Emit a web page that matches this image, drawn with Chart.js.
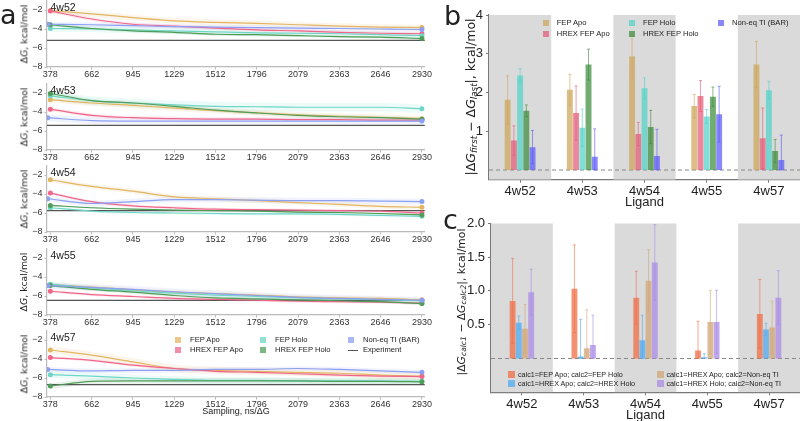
<!DOCTYPE html>
<html><head><meta charset="utf-8">
<script src="https://cdn.jsdelivr.net/npm/chart.js@4"></script>
<style>
body{margin:0;width:800px;height:421px;overflow:hidden;background:#fff;position:relative;font-family:"Liberation Sans",Arial,sans-serif;color:#222;}
canvas{position:absolute;}
.t{position:absolute;white-space:nowrap;line-height:1;}
.rot{transform:translate(-50%,-50%) rotate(-90deg);font-family:"DejaVu Sans",sans-serif;}
.sq{position:absolute;}
sub{font-size:70%;vertical-align:-0.25em;line-height:0;}
</style></head><body>
<script>
// ---------------- DATA ----------------
const LIGANDS = ['4w52','4w53','4w54','4w55','4w57'];
const SERIES_A = ['FEP Apo','HREX FEP Apo','FEP Holo','HREX FEP Holo','Non-eq TI (BAR)'];
const SAMPLING = [378, 662, 945, 1229, 1512, 1796, 2079, 2363, 2646, 2930];
const SAMPLING_TI = [360, 662, 945, 1229, 1512, 1796, 2079, 2363, 2646, 2930];
const X_TICKS_A = [378, 662, 945, 1229, 1512, 1796, 2079, 2363, 2646, 2930];
const Y_TICKS_A = [-8, -6, -4, -2];
const X_MIN_A = 355, X_MAX_A = 2950, Y_MIN_A = -8, Y_MAX_A = -1;
const EXPERIMENT = [-5.2, -5.4, -5.75, -6.45, -6.7];

const FEP_APO_4W52   = [-2.05,-2.4,-2.8,-3.15,-3.3,-3.4,-3.55,-3.7,-3.8,-3.85];
const HREX_APO_4W52  = [-2.1,-2.95,-3.5,-3.7,-3.9,-4.1,-4.2,-4.35,-4.45,-4.5];
const FEP_HOLO_4W52  = [-3.95,-4.0,-4.1,-4.2,-4.3,-4.4,-4.45,-4.5,-4.6,-4.7];
const HREX_HOLO_4W52 = [-3.55,-3.95,-4.2,-4.35,-4.55,-4.6,-4.7,-4.8,-4.85,-5.0];
const TI_4W52        = [-3.5,-3.55,-3.65,-3.75,-3.8,-3.85,-3.9,-3.95,-4.0,-4.05];
const BAND_4W52      = [0.3,0.2,0.35,0.15,0.25];

const FEP_APO_4W53   = [-2.7,-3.05,-3.3,-3.6,-3.85,-4.1,-4.3,-4.45,-4.55,-4.7];
const HREX_APO_4W53  = [-3.7,-4.35,-4.6,-4.7,-4.75,-4.75,-4.8,-4.8,-4.85,-4.85];
const FEP_HOLO_4W53  = [-2.3,-2.8,-3.05,-3.25,-3.4,-3.45,-3.5,-3.5,-3.5,-3.65];
const HREX_HOLO_4W53 = [-2.05,-2.8,-3.05,-3.4,-3.8,-4.1,-4.35,-4.5,-4.6,-4.75];
const TI_4W53        = [-4.6,-4.9,-4.95,-4.95,-4.95,-4.95,-4.95,-4.95,-4.95,-4.95];
const BAND_4W53      = [0.3,0.2,0.45,0.2,0.35];

const FEP_APO_4W54   = [-2.5,-3.2,-3.7,-4.3,-4.5,-4.7,-4.9,-5.1,-5.3,-5.4];
const HREX_APO_4W54  = [-3.9,-4.8,-5.25,-5.45,-5.6,-5.65,-5.7,-5.75,-5.8,-6.0];
const FEP_HOLO_4W54  = [-5.45,-5.8,-5.95,-6.0,-6.05,-6.1,-6.1,-6.15,-6.25,-6.35];
const HREX_HOLO_4W54 = [-5.2,-5.45,-5.6,-5.7,-5.75,-5.8,-5.9,-5.95,-6.05,-6.2];
const TI_4W54        = [-4.5,-5.0,-4.8,-4.6,-4.6,-4.65,-4.7,-4.7,-4.75,-4.8];
const BAND_4W54      = [0.25,0.15,0.15,0.1,0.3];

const FEP_APO_4W55   = [-4.8,-5.05,-5.35,-5.6,-5.75,-5.9,-6.1,-6.2,-6.25,-6.4];
const HREX_APO_4W55  = [-5.5,-5.85,-6.05,-6.25,-6.35,-6.45,-6.55,-6.6,-6.65,-6.75];
const FEP_HOLO_4W55  = [-4.75,-5.15,-5.45,-5.7,-5.9,-6.05,-6.2,-6.3,-6.4,-6.5];
const HREX_HOLO_4W55 = [-4.9,-5.3,-5.6,-5.95,-6.2,-6.3,-6.4,-6.5,-6.6,-6.8];
const TI_4W55        = [-4.9,-5.1,-5.3,-5.55,-5.75,-5.95,-6.15,-6.25,-6.35,-6.45];
const BAND_4W55      = [0.2,0.15,0.2,0.15,0.35];

const FEP_APO_4W57   = [-3.05,-3.6,-4.3,-5.0,-5.2,-5.3,-5.4,-5.5,-5.7,-5.8];
const HREX_APO_4W57  = [-3.85,-4.15,-4.65,-5.0,-5.3,-5.4,-5.55,-5.7,-5.8,-5.85];
const FEP_HOLO_4W57  = [-5.65,-5.8,-6.0,-6.15,-6.25,-6.25,-6.3,-6.3,-6.3,-6.35];
const HREX_HOLO_4W57 = [-6.85,-6.35,-6.3,-6.3,-6.3,-6.3,-6.3,-6.35,-6.35,-6.4];
const TI_4W57        = [-5.1,-5.25,-5.2,-5.2,-5.1,-5.1,-5.0,-5.1,-5.25,-5.4];
const BAND_4W57      = [0.4,0.15,0.35,0.3,0.25];

// panel b
const Y_TICKS_B = [1, 2, 3, 4];
const B_FEP_APO        = [1.81,2.07,2.93,1.65,2.72];
const B_FEP_APO_ERR    = [0.62,0.40,0.55,0.30,0.60];
const B_HREX_APO       = [0.76,1.47,0.93,1.91,0.82];
const B_HREX_APO_ERR   = [0.38,0.70,0.30,0.40,0.78];
const B_FEP_HOLO       = [2.44,1.09,2.11,1.38,2.06];
const B_FEP_HOLO_ERR   = [0.17,0.48,0.27,0.18,0.23];
const B_HREX_HOLO      = [1.53,2.72,1.11,1.89,0.49];
const B_HREX_HOLO_ERR  = [0.15,0.40,0.43,0.25,0.30];
const B_TI             = [0.59,0.34,0.36,1.44,0.26];
const B_TI_ERR         = [0.43,0.72,0.69,0.72,0.64];

// panel c
const SERIES_C = ['calc1=FEP Apo; calc2=FEP Holo','calc1=HREX Apo; calc2=HREX Holo','calc1=HREX Apo; calc2=Non-eq TI','calc1=HREX Holo; calc2=Non-eq TI'];
const Y_TICKS_C = [0.5, 1.0, 1.5, 2.0];
const C_FEPAPO_FEPHOLO      = [0.85,1.03,0.90,0.12,0.66];
const C_FEPAPO_FEPHOLO_ERR  = [0.63,0.65,0.39,0.43,0.51];
const C_HREXAPO_HREXHOLO     = [0.53,0.03,0.27,0.02,0.43];
const C_HREXAPO_HREXHOLO_ERR = [0.10,0.55,0.37,0.05,0.09];
const C_HREXAPO_TI          = [0.44,0.15,1.15,0.54,0.46];
const C_HREXAPO_TI_ERR      = [0.36,0.57,0.46,0.47,0.39];
const C_HREXHOLO_TI         = [0.98,0.20,1.42,0.54,0.90];
const C_HREXHOLO_TI_ERR     = [0.34,0.44,0.56,0.47,0.40];

// ---------------- STYLE ----------------
const COL_A = [[226,181,99],[240,102,138],[110,214,198],[79,157,89],[139,159,243]];
const COL_B = [[205,165,88],[228,90,120],[80,210,200],[60,140,60],[90,90,250]];
const COL_C = [[240,110,70],[80,170,240],[210,165,120],[170,140,230]];
const rgba = (c,a)=>`rgba(${c[0]},${c[1]},${c[2]},${a})`;
const FONT = '"Liberation Sans", Arial, sans-serif';

const A_DATA = {
 '4w52':[FEP_APO_4W52,HREX_APO_4W52,FEP_HOLO_4W52,HREX_HOLO_4W52,TI_4W52],
 '4w53':[FEP_APO_4W53,HREX_APO_4W53,FEP_HOLO_4W53,HREX_HOLO_4W53,TI_4W53],
 '4w54':[FEP_APO_4W54,HREX_APO_4W54,FEP_HOLO_4W54,HREX_HOLO_4W54,TI_4W54],
 '4w55':[FEP_APO_4W55,HREX_APO_4W55,FEP_HOLO_4W55,HREX_HOLO_4W55,TI_4W55],
 '4w57':[FEP_APO_4W57,HREX_APO_4W57,FEP_HOLO_4W57,HREX_HOLO_4W57,TI_4W57]};
const A_BAND = {'4w52':BAND_4W52,'4w53':BAND_4W53,'4w54':BAND_4W54,'4w55':BAND_4W55,'4w57':BAND_4W57};

function addCanvas(left, top, w, h){
  const cv=document.createElement('canvas');
  cv.width=w; cv.height=h; cv.style.left=left+'px'; cv.style.top=top+'px';
  cv.style.width=w+'px'; cv.style.height=h+'px';
  document.body.appendChild(cv); return cv;
}
function addText(html, left, top, size, cls, extra){
  const d=document.createElement('div'); d.className='t'+(cls?' '+cls:'');
  d.innerHTML=html; d.style.left=left+'px'; d.style.top=top+'px'; d.style.fontSize=size+'px';
  if(extra) Object.assign(d.style, extra);
  document.body.appendChild(d); return d;
}
function addBox(left, top, w, h, color){
  const d=document.createElement('div'); d.className='sq';
  Object.assign(d.style,{left:left+'px',top:top+'px',width:w+'px',height:h+'px',background:color});
  document.body.appendChild(d);
}

// ---------------- PANEL A ----------------
const A_BOTTOMS = [66.7, 150, 231.7, 315, 396.7];
const labelPlugin = {
  id:'sublabel',
  afterDraw(chart){
    const a=chart.chartArea, ctx=chart.ctx;
    ctx.save(); ctx.font='10.5px '+FONT; ctx.fillStyle='#222'; ctx.textBaseline='alphabetic';
    ctx.fillText(chart.options.plugins.sublabel.text, a.left+3.5, a.top+10.5); ctx.restore();
  }
};
LIGANDS.forEach((lig, li)=>{
  const B=A_BOTTOMS[li];
  const cv=addCanvas(0, B-80, 432, 96);
  const series=A_DATA[lig], bands=A_BAND[lig];
  const ds=[];
  series.forEach((vals,s)=>{
    const xs = s===4 ? SAMPLING_TI : SAMPLING;
    ds.push({data: xs.map((x,k)=>({x, y: vals[k]+bands[s]})), borderWidth:0, pointRadius:0,
      fill:'+1', backgroundColor: rgba(COL_A[s],0.13), cubicInterpolationMode:'monotone', order:10});
    ds.push({data: xs.map((x,k)=>({x, y: vals[k]-bands[s]})), borderWidth:0, pointRadius:0,
      fill:false, cubicInterpolationMode:'monotone', order:10});
  });
  ds.push({data:[{x:X_MIN_A,y:EXPERIMENT[li]},{x:X_MAX_A,y:EXPERIMENT[li]}], borderColor:'#555', borderWidth:1.2,
    pointRadius:0, fill:false, order:3});
  series.forEach((vals,s)=>{
    const xs = s===4 ? SAMPLING_TI : SAMPLING;
    const n=vals.length;
    ds.push({data: xs.map((x,k)=>({x, y: vals[k]})), borderColor: rgba(COL_A[s],1), borderWidth:1.2,
      backgroundColor: rgba(COL_A[s],1), fill:false, cubicInterpolationMode:'monotone',
      pointRadius: c => (c.dataIndex===0 || c.dataIndex===n-1) ? 2.5 : 0, pointBorderWidth:0,
      pointBackgroundColor: rgba(COL_A[s],1), order: 1 + (4-s)*0.1});
  });
  new Chart(cv, {
    type:'line', data:{datasets:ds},
    options:{responsive:false, animation:false, events:[],
      layout:{padding:{top:13.5, right:6, left:0, bottom:0}},
      plugins:{legend:{display:false}, tooltip:{enabled:false}, sublabel:{text:lig}},
      scales:{
        x:{type:'linear', min:X_MIN_A, max:X_MAX_A,
          afterBuildTicks(s){ s.ticks = X_TICKS_A.map(v=>({value:v})); },
          afterFit(s){ s.height=16; },
          grid:{drawOnChartArea:false, drawTicks:true, tickLength:2.5, color:'#bbb'},
          border:{color:'#bbb', width:1.2},
          ticks:{autoSkip:false, maxRotation:0, padding:0, color:'#333', font:{size:9, family:FONT}, callback:v=>String(v)}},
        y:{min:Y_MIN_A, max:Y_MAX_A,
          afterBuildTicks(s){ s.ticks = Y_TICKS_A.map(v=>({value:v})); },
          afterFit(s){ s.width=47; },
          grid:{drawOnChartArea:false, drawTicks:true, tickLength:2.5, color:'#bbb'},
          border:{color:'#bbb', width:1.2},
          ticks:{padding:2, color:'#333', font:{size:9, family:FONT}, callback:v=>String(v).replace('-','\u2212')}}
      }},
    plugins:[labelPlugin]
  });
  addText('<i>Δ</i><i>G</i>, kcal/mol'.replace('<i>Δ</i>','Δ'), 23.5, B-33, 9.3, 'rot');
});
addText('a', 0, 1, 27, '', {fontFamily:'"DejaVu Sans",sans-serif'});
addText('Sampling, ns/ΔG', 236, 406.5, 9, '', {transform:'translateX(-50%)'});
// legend panel a
const A_LEG = [[175,339.7],[175,350.3],[260,339.7],[260,350.3],[348,339.7]];
SERIES_A.forEach((name,s)=>{
  const [x,y]=A_LEG[s];
  addBox(x, y-3, 6, 6, rgba(COL_A[s],0.75));
  addText(name, x+15, y-3.9, 7.6);
});
addBox(348, 349.7, 10, 1.2, '#555');
addText('Experiment', 363, 350.3-3.9, 7.6);

// ---------------- BAR HELPERS ----------------
const bgPlugin = {
  id:'bgbands',
  beforeDatasetsDraw(chart){
    const ctx=chart.ctx, a=chart.chartArea, x=chart.scales.x, y=chart.scales.y;
    const w = x.width / x.ticks.length;
    ctx.save();
    ctx.beginPath(); ctx.rect(a.left, a.top, a.right-a.left, a.bottom-a.top); ctx.clip();
    ctx.fillStyle='#dadada';
    x.ticks.forEach((t,i)=>{ if(i%2===0){ const cx=x.getPixelForValue(i); ctx.fillRect(cx-w/2, a.top, w, a.bottom-a.top);} });
    ctx.strokeStyle='#888'; ctx.lineWidth=1; ctx.setLineDash([4,3]);
    const y0=y.getPixelForValue(0);
    ctx.beginPath(); ctx.moveTo(a.left,y0); ctx.lineTo(a.right,y0); ctx.stroke();
    ctx.restore();
  }
};
const errPlugin = {
  id:'errbars',
  afterDatasetsDraw(chart){
    const ctx=chart.ctx, y=chart.scales.y;
    chart.data.datasets.forEach((ds,i)=>{
      const meta=chart.getDatasetMeta(i);
      meta.data.forEach((bar,j)=>{
        const v=ds.data[j], e=ds.err[j];
        const top=y.getPixelForValue(v+e), bot=y.getPixelForValue(Math.max(0,v-e));
        ctx.save(); ctx.strokeStyle=ds.errColor; ctx.lineWidth=1;
        ctx.beginPath(); ctx.moveTo(bar.x,top); ctx.lineTo(bar.x,bot);
        ctx.moveTo(bar.x-1.5,top); ctx.lineTo(bar.x+1.5,top);
        ctx.moveTo(bar.x-1.5,bot); ctx.lineTo(bar.x+1.5,bot);
        ctx.stroke(); ctx.restore();
      });
    });
  }
};
function barChart(cv, datasets, opt){
  return new Chart(cv, {
    type:'bar', data:{labels:LIGANDS, datasets},
    options:{responsive:false, animation:false, events:[],
      layout:{padding:{top:opt.padTop, right:0, left:0, bottom:0}},
      datasets:{bar:{categoryPercentage:opt.catPct, barPercentage:0.95, borderWidth:0}},
      plugins:{legend:{display:false}, tooltip:{enabled:false}},
      scales:{
        x:{offset:true, afterFit(s){ s.height=opt.xH; },
          grid:{drawOnChartArea:false, drawTicks:true, tickLength:3, color:'#777', offset:false},
          border:{color:'#777', width:1.2},
          ticks:{padding:1, color:'#222', font:{size:13, family:FONT}}},
        y:{min:opt.ymin, max:opt.ymax,
          afterBuildTicks(s){ s.ticks = opt.yticks.map(v=>({value:v})); },
          afterFit(s){ s.width=opt.yW; },
          grid:{drawOnChartArea:false, drawTicks:true, tickLength:3, color:'#777'},
          border:{color:'#777', width:1.2},
          ticks:{padding:3, color:'#222', font:{size:13, family:FONT}, callback:opt.fmt}}
      }},
    plugins:[bgPlugin, errPlugin]
  });
}

// ---------------- PANEL B ----------------
const cvB = addCanvas(400, 0, 400, 210);
const B_VALS=[B_FEP_APO,B_HREX_APO,B_FEP_HOLO,B_HREX_HOLO,B_TI];
const B_ERRS=[B_FEP_APO_ERR,B_HREX_APO_ERR,B_FEP_HOLO_ERR,B_HREX_HOLO_ERR,B_TI_ERR];
barChart(cvB, B_VALS.map((v,s)=>({label:SERIES_A[s], data:v, err:B_ERRS[s],
  backgroundColor:rgba(COL_B[s],0.72), errColor:rgba(COL_B[s],0.6)})),
  {padTop:15, xH:30.3, yW:89, ymin:-0.25, ymax:4, yticks:Y_TICKS_B, catPct:0.5, fmt:v=>String(v)});
addText('b', 444, 2, 27, '', {fontFamily:'"DejaVu Sans",sans-serif'});
addText('|Δ<i>G</i><sub><i>first</i></sub> − Δ<i>G</i><sub><i>last</i></sub>|, kcal/mol', 471, 97, 12.5, 'rot');
addText('Ligand', 644.5, 195, 13, '', {transform:'translateX(-50%)'});
const B_LEG = [[542.7,23.3],[542.7,34],[629,23.3],[629,34],[718,23.3]];
SERIES_A.forEach((name,s)=>{
  const [x,y]=B_LEG[s];
  addBox(x, y-3, 6, 6, rgba(COL_B[s],0.72));
  addText(name, x+14, y-3.9, 7.6);
});

// ---------------- PANEL C ----------------
const cvC = addCanvas(400, 205, 400, 216);
const C_VALS=[C_FEPAPO_FEPHOLO,C_HREXAPO_HREXHOLO,C_HREXAPO_TI,C_HREXHOLO_TI];
const C_ERRS=[C_FEPAPO_FEPHOLO_ERR,C_HREXAPO_HREXHOLO_ERR,C_HREXAPO_TI_ERR,C_HREXHOLO_TI_ERR];
barChart(cvC, C_VALS.map((v,s)=>({label:SERIES_C[s], data:v, err:C_ERRS[s],
  backgroundColor:rgba(COL_C[s],0.75), errColor:rgba(COL_C[s],0.6)})),
  {padTop:18.3, xH:28.7, yW:91, ymin:-0.5, ymax:2.0, yticks:Y_TICKS_C, catPct:0.4, fmt:v=>v.toFixed(1)});
addText('c', 443, 206, 27, '', {fontFamily:'"DejaVu Sans",sans-serif'});
addText('|Δ<i>G</i><sub><i>calc1</i></sub> − Δ<i>G</i><sub><i>calc2</i></sub>|, kcal/mol', 461.7, 302, 10.8, 'rot');
addText('Ligand', 645.5, 407.5, 13, '', {transform:'translateX(-50%)'});
const C_LEG = [[508,374.3],[508,383.3],[656.5,374.3],[656.5,383.3]];
SERIES_C.forEach((name,s)=>{
  const [x,y]=C_LEG[s];
  addBox(x, y-3.5, 7, 7, rgba(COL_C[s],0.75));
  addText(name, x+10, y-3.6, 7.2);
});
</script>
</body></html>
